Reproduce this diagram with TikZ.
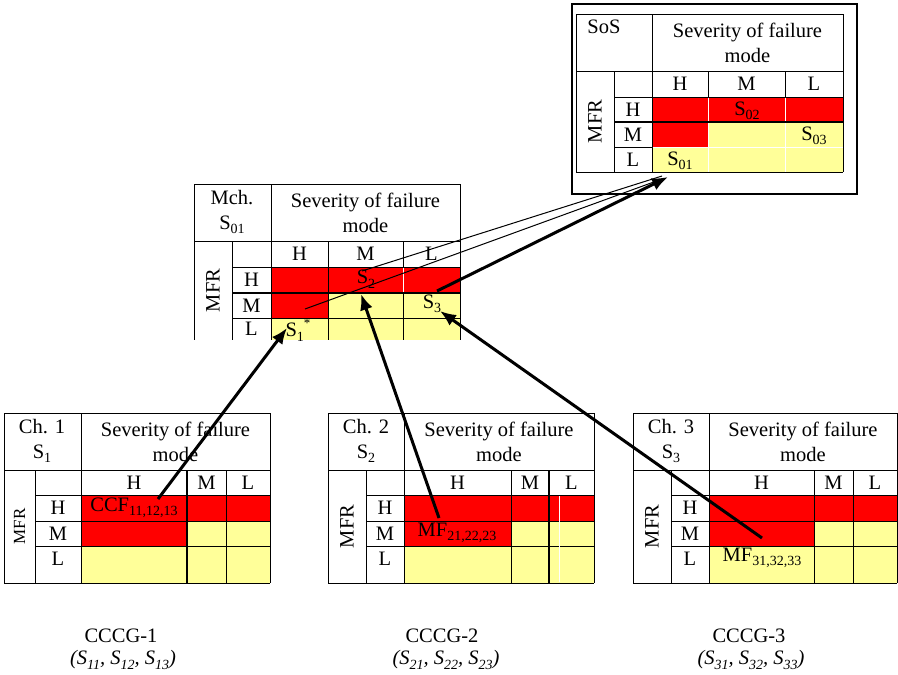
\documentclass[tikz,border=0pt]{standalone}
\usepackage{fontspec}
\setmainfont{Liberation Serif}
\usetikzlibrary{arrows.meta}
\definecolor{redc}{RGB}{255,0,0}
\definecolor{yelc}{RGB}{255,255,153}
\newcommand\sbx[1]{\raisebox{-4.5pt}{\fontsize{14}{14}\selectfont #1}}
\newcommand\qsetx[6]{\def\qxa{#1}\def\qxb{#2}\def\qxc{#3}\def\qxd{#4}\def\qxe{#5}\def\qxf{#6}}
\newcommand\qsety[6]{\def\qya{#1}\def\qyb{#2}\def\qyc{#3}\def\qyd{#4}\def\qye{#5}\def\qyf{#6}}
\newcommand\qgrid{%
  \fill[redc] (\qxc,\qyc) rectangle (\qxf,\qyd);
  \fill[redc] (\qxc,\qyd) rectangle (\qxd,\qye);
  \fill[yelc] (\qxd,\qyd) rectangle (\qxf,\qye);
  \fill[yelc] (\qxc,\qye) rectangle (\qxf,\qyf);
  \draw[gl] (\qxa,\qya) -- (\qxf,\qya);
  \draw[gl] (\qxa,\qya) -- (\qxa,\qyf);
  \draw[gl] (\qxf,\qya) -- (\qxf,\qyf);
  \draw[gl] (\qxa,\qyb) -- (\qxf,\qyb);
  \draw[gl] (\qxc,\qya) -- (\qxc,\qyf);
  \draw[gl] (\qxb,\qyb) -- (\qxb,\qyf);
  \draw[gl] (\qxd,\qyb) -- (\qxd,\qyf);
  \draw[gl] (\qxe,\qyb) -- (\qxe,\qyf);
  \draw[gl] (\qxb,\qyc) -- (\qxf,\qyc);
  \draw[gl] (\qxb,\qyd) -- (\qxf,\qyd);
  \draw[gl] (\qxb,\qye) -- (\qxf,\qye);
}
\newcommand\qlabels[3]{%
  \node[tx] (#1ch) at ({(\qxc+\qxd)/2},{(\qyb+\qyc)/2}) {H};
  \node[tx] (#1cm) at ({(\qxd+\qxe)/2},{(\qyb+\qyc)/2}) {M};
  \node[tx] (#1cl) at ({(\qxe+\qxf)/2},{(\qyb+\qyc)/2}) {L};
  \node[tx] (#1rh) at ({(\qxb+\qxc)/2},{(\qyc+\qyd)/2}) {H};
  \node[tx] (#1rm) at ({(\qxb+\qxc)/2},{(\qyd+\qye)/2}) {M};
  \node[tx] (#1rl) at ({(\qxb+\qxc)/2},#3) {L};
  \node[tx,rotate=90,font=\fontsize{#2}{#2}\selectfont] (#1mfr) at ({(\qxa+\qxb)/2},{(\qyb+\qyf)/2}) {MFR};
  \node[tx] (#1sev) at ({(\qxc+\qxf)/2},{(\qya+\qyb)/2}) {Severity of failure\\mode};
}
\begin{document}
\begin{tikzpicture}[x=1pt,y=-1pt,
  gl/.style={line width=0.9pt,black},
  thk/.style={line width=2pt,black},
  wl/.style={line width=1pt,white},
  tx/.style={font=\fontsize{20.5}{25}\selectfont,align=center,inner sep=0pt},
  itx/.style={font=\fontsize{20.5}{25}\selectfont\itshape,align=center,inner sep=0pt},
  bigarrow/.style={line width=3pt,-{Latex[length=16pt,width=13pt]}},
  thin/.style={line width=1pt}]
\useasboundingbox (0,0) rectangle (898,675);
\fill[white] (0,0) rectangle (898,675);

% ---------- top-right table (SoS)
\draw[line width=1.6pt] (572,4) rectangle (857,194);
\qsetx{576}{614}{652}{708}{785}{843}\qsety{14}{71}{97}{122}{147}{172}
\qgrid
\draw[gl] (\qxa,\qyf) -- (\qxf,\qyf);
\draw[wl] (708,97.5) -- (708,171.5);
\draw[wl] (785,97.5) -- (785,171.5);
\draw[wl] (652.5,147) -- (842.5,147);
\draw[thk] (\qxb,\qyd) -- (\qxf,\qyd);
\qlabels{t}{20.5}{160}
\node[tx] (tsos) at (604,27) {SoS};
\node[tx] (ts02) at (747,111) {S\sbx{02}};
\node[tx] (ts03) at (814,136) {S\sbx{03}};
\node[tx] (ts01) at (680,161) {S\sbx{01}};

% ---------- middle table (Mch.)
\qsetx{194}{232}{271}{328}{403}{460}\qsety{184}{241}{267}{293}{318}{340}
\qgrid
\draw[wl] (403,267.5) -- (403,292.5);
\draw[thk] (\qxb,\qyd) -- (\qxf,\qyd);
\qlabels{m}{20.5}{329}
\node[tx] (mmch) at (232,212) {Mch.\\S\sbx{01}};
\node[tx] (ms2) at (366,279) {S\sbx{2}};
\node[tx] (ms3) at (432,304) {S\sbx{3}};
\node[tx] (ms1) at (298,330) {S\sbx{1}\raisebox{9pt}{\fontsize{13}{13}\selectfont *}};

% ---------- bottom table 1
\qsetx{4}{35}{81}{187}{226}{270}\qsety{413}{470}{495}{521}{546}{583}
\qgrid
\draw[gl] (\qxa,\qyf) -- (\qxf,\qyf);
\draw[thk] (\qxd,\qyb) -- (\qxd,\qyf);
\qlabels{a}{17}{559}
\node[tx] (ach) at (42,441) {Ch. 1\\S\sbx{1}};
\node[tx] (accf) at (134,508) {CCF\sbx{11,12,13}};

% ---------- bottom table 2
\qsetx{328}{366}{404}{511}{549}{594}\qsety{413}{470}{495}{521}{546}{583}
\qgrid
\draw[gl] (\qxa,\qyf) -- (\qxf,\qyf);
\draw[wl] (559,496) -- (559,582);
\draw[thk] (\qxe,\qyb) -- (\qxe,\qyf);
\qlabels{b}{20.5}{559}
\node[tx] (bch) at (366,441) {Ch. 2\\S\sbx{2}};
\node[tx] (bmf) at (457,533) {MF\sbx{21,22,23}};

% ---------- bottom table 3
\qsetx{633}{671}{709}{814}{853}{897}\qsety{413}{470}{495}{521}{546}{583}
\qgrid
\draw[gl] (\qxa,\qyf) -- (\qxf,\qyf);
\qlabels{c}{20.5}{559}
\node[tx] (cch) at (671,441) {Ch. 3\\S\sbx{3}};
\node[tx] (cmf) at (762,558) {MF\sbx{31,32,33}};

% ---------- group labels
\node[tx] (g1) at (121,636) {CCCG-1};
\node[itx] (g1s) at (123,660) {(S\sbx{11}, S\sbx{12}, S\sbx{13})};
\node[tx] (g2) at (442,636) {CCCG-2};
\node[itx] (g2s) at (446,660) {(S\sbx{21}, S\sbx{22}, S\sbx{23})};
\node[tx] (g3) at (749,636) {CCCG-3};
\node[itx] (g3s) at (751,660) {(S\sbx{31}, S\sbx{32}, S\sbx{33})};

% ---------- connectors
\coordinate (p1) at (158,499); \coordinate (q1) at (287,328);
\coordinate (p2) at (439,518); \coordinate (q2) at (361,294);
\coordinate (p3) at (762,538); \coordinate (q3) at (440,311);
\coordinate (r1) at (305,309); \coordinate (r2) at (362,271);
\coordinate (r3) at (437,291);
\coordinate (s1) at (662,179); \coordinate (s2) at (662,176);
\coordinate (tip) at (668,177);
\draw[bigarrow] (p1) -- (q1);
\draw[bigarrow] (p2) -- (q2);
\draw[bigarrow] (p3) -- (q3);
\draw[thin] (r1) -- (s1);
\draw[thin] (r2) -- (s2);
\draw[bigarrow] (r3) -- (tip);
\end{tikzpicture}
\end{document}
